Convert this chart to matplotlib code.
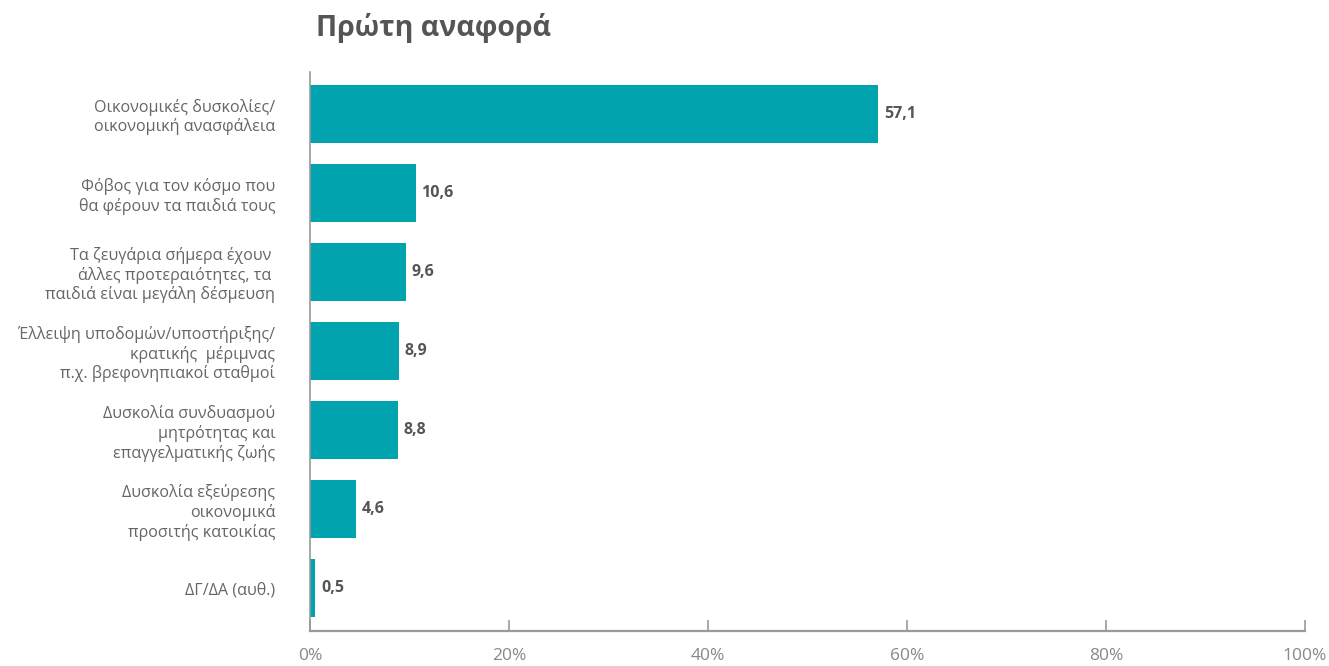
import matplotlib.pyplot as plt

plt.rcParams['font.family'] = ['Open Sans', 'DejaVu Sans']

# data
categories = [
    "Οικονομικές δυσκολίες/\nοικονομική ανασφάλεια",
    "Φόβος για τον κόσμο που\nθα φέρουν τα παιδιά τους",
    "Τα ζευγάρια σήμερα έχουν \nάλλες προτεραιότητες, τα \nπαιδιά είναι μεγάλη δέσμευση",
    "Έλλειψη υποδομών/υποστήριξης/\nκρατικής  μέριμνας\nπ.χ. βρεφονηπιακοί σταθμοί",
    "Δυσκολία συνδυασμού\nμητρότητας και\nεπαγγελματικής ζωής",
    "Δυσκολία εξεύρεσης\nοικονομικά\nπροσιτής κατοικίας",
    "ΔΓ/ΔΑ (αυθ.)",
]
values = [57.1, 10.6, 9.6, 8.9, 8.8, 4.6, 0.5]
xticks = [0, 20, 40, 60, 80, 100]
xticklabels = ["0%", "20%", "40%", "60%", "80%", "100%"]

bar_color = "#00A3AE"
grey = "#9a9a9a"

fig = plt.figure(figsize=(13.29, 6.66), dpi=100)
ax = fig.add_axes([0.2333, 0.0526, 0.7487, 0.8394])

ypos = list(range(len(values)))
ax.barh(ypos, values, height=0.73, color=bar_color)
ax.set_ylim(len(values) - 0.46, -0.53)
ax.set_xlim(0, 100)

for y, v in zip(ypos, values):
    ax.text(v + 0.6, y, f"{v:.1f}".replace(".", ","), va="center", ha="left",
            fontsize=11.5, fontweight="bold", color="#555555")

ax.set_yticks(ypos)
ax.set_yticklabels(categories, fontsize=11.6, color="#666666", linespacing=1.2)
ax.tick_params(axis="y", length=0, pad=25)

ax.set_xticks(xticks)
ax.set_xticklabels(xticklabels, fontsize=12.5, color="#888888")
ax.tick_params(axis="x", direction="in", length=8, width=1.2, color=grey, pad=12)

for s in ["top", "right"]:
    ax.spines[s].set_visible(False)
ax.spines["left"].set_color(grey)
ax.spines["bottom"].set_color(grey)
ax.spines["left"].set_linewidth(1.2)
ax.spines["bottom"].set_linewidth(1.6)

fig.text(0.238, 0.958, "Πρώτη αναφορά", fontsize=20.5, fontweight="bold",
         color="#555555", ha="left", va="center")

fig.savefig("out.png", dpi=100)
